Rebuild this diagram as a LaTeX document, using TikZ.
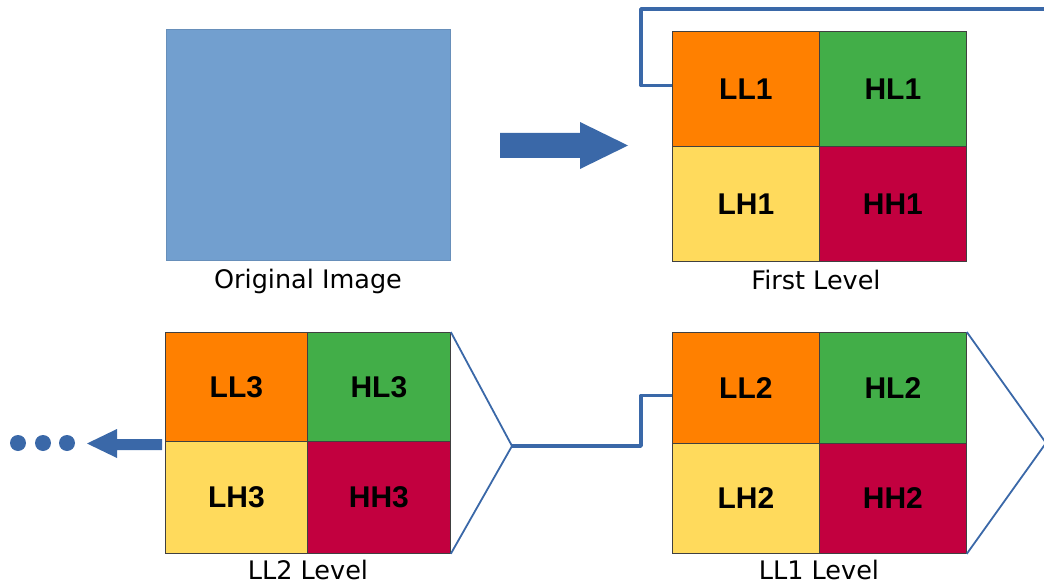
\documentclass[tikz,border=0pt]{standalone}
\usepackage{fontspec}
\setmainfont{DejaVu Sans}
\newfontfamily\cellfont{Liberation Sans}[BoldFont={* Bold}]
\begin{document}
\begin{tikzpicture}[x=1pt,y=-1pt]
  \definecolor{imgblue}{HTML}{729FCF}
  \definecolor{linkblue}{HTML}{3A68A8}
  \definecolor{cOrange}{HTML}{FF8000}
  \definecolor{cGreen}{HTML}{42AE48}
  \definecolor{cYellow}{HTML}{FFDA5C}
  \definecolor{cRed}{HTML}{C2003F}
  \tikzset{
    cell/.style={draw=black!75,line width=0.8pt,inner sep=0pt,anchor=north west,
      font=\cellfont\bfseries\fontsize{30}{33}\selectfont},
    caption/.style={font=\fontsize{25.5}{28}\selectfont,anchor=base},
    wire/.style={draw=linkblue,line width=3.5pt,line join=round},
    fanline/.style={draw=linkblue,line width=1.8pt},
    bluefill/.style={fill=linkblue}
  }
  \useasboundingbox (0,0) rectangle (1044,583);

  % original image
  \node[draw=imgblue!90!black,line width=0.6pt,fill=imgblue,inner sep=0pt,anchor=north west,
        minimum width=284pt,minimum height=231pt] (orig) at (166,29) {};
  \node[caption] (origcap) at (308,288) {Original Image};

  % first level
  \node[cell,fill=cOrange,minimum width=147pt,minimum height=115pt] (ll1) at (672,31) {LL1};
  \node[cell,fill=cGreen,minimum width=147pt,minimum height=115pt] (hl1) at (819,31) {HL1};
  \node[cell,fill=cYellow,minimum width=147pt,minimum height=115pt] (lh1) at (672,146) {LH1};
  \node[cell,fill=cRed,minimum width=147pt,minimum height=115pt] (hh1) at (819,146) {HH1};
  \node[caption] (cap1) at (816,289) {First Level};

  % LL1 level
  \node[cell,fill=cOrange,minimum width=147pt,minimum height=111pt] (ll2) at (672,332) {LL2};
  \node[cell,fill=cGreen,minimum width=147pt,minimum height=111pt] (hl2) at (819,332) {HL2};
  \node[cell,fill=cYellow,minimum width=147pt,minimum height=110pt] (lh2) at (672,443) {LH2};
  \node[cell,fill=cRed,minimum width=147pt,minimum height=110pt] (hh2) at (819,443) {HH2};
  \node[caption] (cap2) at (819,579) {LL1 Level};

  % LL2 level
  \node[cell,fill=cOrange,minimum width=142pt,minimum height=109pt] (ll3) at (165,332) {LL3};
  \node[cell,fill=cGreen,minimum width=143pt,minimum height=109pt] (hl3) at (307,332) {HL3};
  \node[cell,fill=cYellow,minimum width=142pt,minimum height=112pt] (lh3) at (165,441) {LH3};
  \node[cell,fill=cRed,minimum width=143pt,minimum height=112pt] (hh3) at (307,441) {HH3};
  \node[caption] (cap3) at (308,579) {LL2 Level};

  % transform arrow
  \fill[bluefill] (500,133) -- (580,133) -- (580,122) -- (628,145.5) -- (580,169)
        -- (580,158) -- (500,158) -- cycle;

  % feedback of LL1 into the next level
  \coordinate (topend) at (1050,9);
  \draw[wire] ([yshift=3.5pt]ll1.west) -- ++(-31,0) |- (topend);

  % fan-outs of the sub-band blocks
  \coordinate (apex2) at (1046,443);
  \draw[fanline] (hl2.north east) -- (apex2) -- (hh2.south east);
  \coordinate (apex3) at (512,446);
  \draw[fanline] (hl3.north east) -- (apex3) -- (hh3.south east);
  \draw[wire] (apex3) -- ++(129,0) |- ([yshift=-7.5pt]ll2.west);

  % continuation arrow and dots
  \fill[bluefill] (162,439) -- (117,439) -- (117,429) -- (87,443.5) -- (117,458)
        -- (117,450) -- (162,450) -- cycle;
  \fill[bluefill] (18,443) circle (8) (43,443) circle (8) (67,443) circle (8);
\end{tikzpicture}
\end{document}
